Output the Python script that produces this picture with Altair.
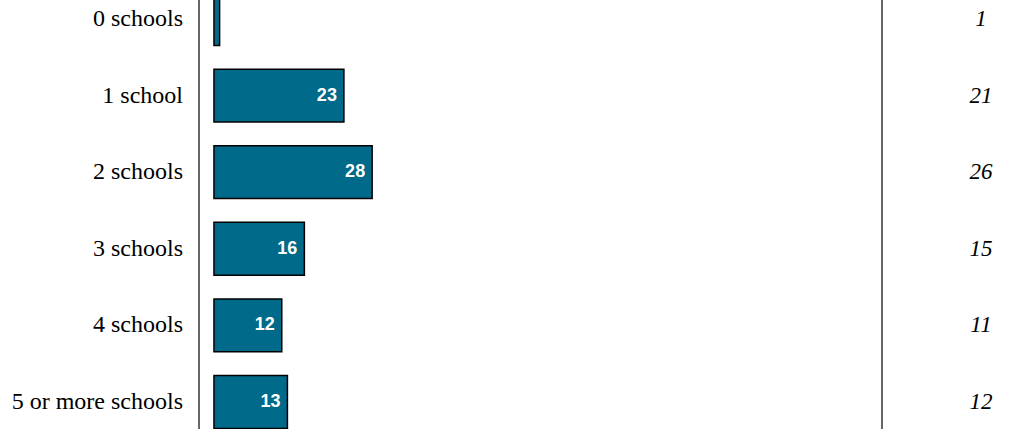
import altair as alt
import pandas as pd

categories = ["0 schools", "1 school", "2 schools", "3 schools", "4 schools", "5 or more schools"]
bar_values = [1, 23, 28, 16, 12, 13]
right_values = [1, 21, 26, 15, 11, 12]

df = pd.DataFrame({
    "cat": categories,
    "idx": list(range(len(categories))),
    "val": bar_values,
    "right": right_values,
})
df["y0"] = df["idx"] - 0.345
df["y1"] = df["idx"] + 0.345
df["lab"] = df["val"].astype(str)

W, H = 683, 429
xs = alt.Scale(domain=[-2.65, 118.25], nice=False, zero=False)
ys = alt.Scale(domain=[5.353, -0.248], nice=False, zero=False)

base = alt.Chart(df)

bars = base.mark_rect(color="#006a8a", stroke="black", strokeWidth=1.5, clip=True).encode(
    x=alt.X("x0:Q", scale=xs, axis=None),
    x2="val:Q",
    y=alt.Y("y0:Q", scale=ys, axis=None),
    y2="y1:Q",
).transform_calculate(x0="0")

labels = base.transform_filter("datum.val >= 2").mark_text(
    align="right", baseline="middle", dx=-7, font="Liberation Sans", fontWeight="bold",
    fontSize=18, color="white"
).encode(
    x=alt.X("val:Q", scale=xs, axis=None),
    y=alt.Y("idx:Q", scale=ys, axis=None),
    text="lab:N",
)

cats = base.mark_text(
    align="right", baseline="middle", font="Liberation Serif", fontSize=24, color="black"
).encode(
    x=alt.value(-16),
    y=alt.Y("idx:Q", scale=ys, axis=None),
    text="cat:N",
)

rights = base.mark_text(
    align="center", baseline="middle", font="Liberation Serif", fontStyle="italic",
    fontSize=23, color="black"
).encode(
    x=alt.value(782),
    y=alt.Y("idx:Q", scale=ys, axis=None),
    text="right:Q",
)

lines_df = pd.DataFrame({"px": [0, 683]})
rules = alt.Chart(lines_df).mark_rule(color="#333333", strokeWidth=1.5).encode(
    x=alt.X("px:Q", scale=alt.Scale(domain=[0, W], nice=False, range=[0, W]), axis=None),
    y=alt.value(0),
    y2=alt.value(H),
)

chart = alt.layer(bars, labels, cats, rights, rules).resolve_scale(x="independent").properties(
    width=W, height=H,
    padding={"left": 199, "top": 0, "right": 128, "bottom": 0},
    autosize=alt.AutoSizeParams(type="none"),
).configure_view(stroke=None)

chart.save("out.html", embed_options={"renderer": "svg", "actions": False})
